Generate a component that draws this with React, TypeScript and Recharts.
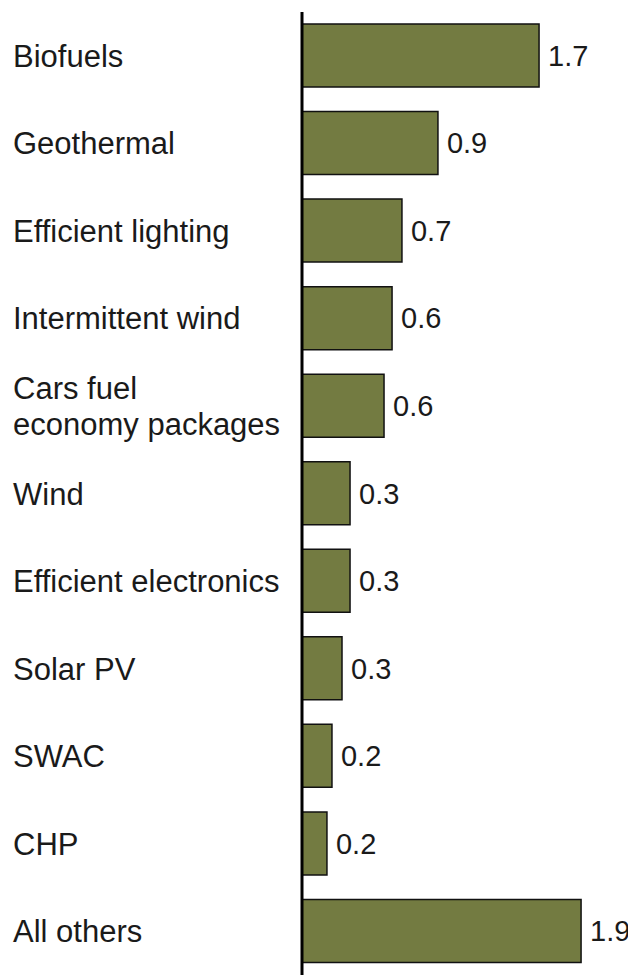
import React from "react";
import { BarChart, Bar, XAxis, YAxis, LabelList } from "recharts";

const categories = [
  "Biofuels",
  "Geothermal",
  "Efficient lighting",
  "Intermittent wind",
  "Cars fuel\neconomy packages",
  "Wind",
  "Efficient electronics",
  "Solar PV",
  "SWAC",
  "CHP",
  "All others",
];

const values = [1.653, 0.948, 0.697, 0.628, 0.572, 0.335, 0.335, 0.279, 0.209, 0.174, 1.946];

const data = categories.map((name, i) => ({ name, value: values[i] }));

const FONT = '"Liberation Sans", Arial, Helvetica, sans-serif';
const CAT_FONT_SIZE = 31;
const VAL_FONT_SIZE = 29;

const CatTick = (props: any) => {
  const { y, payload } = props;
  const lines: string[] = String(payload.value).split("\n");
  const lineH = 36;
  const startY = y + 11 - ((lines.length - 1) * lineH) / 2;
  return (
    <text x={5} y={startY} fontFamily={FONT} fontSize={CAT_FONT_SIZE} fill="#1a1a1a" textAnchor="start">
      {lines.map((l, i) => (
        <tspan key={i} x={5} y={startY + i * lineH}>
          {l}
        </tspan>
      ))}
    </text>
  );
};

export default function App() {
  return (
    <BarChart
      width={628}
      height={967}
      data={data}
      layout="vertical"
      margin={{ top: 4, right: 18.5, bottom: 0, left: 0 }}
      barCategoryGap={0}
      style={{ overflow: "visible" }}
    >
      <XAxis type="number" domain={[0, 2.2]} hide />
      <YAxis
        type="category"
        dataKey="name"
        width={294}
        axisLine={{ stroke: "#000", strokeWidth: 3 }}
        tickLine={false}
        tick={(p: any) => <CatTick {...p} />}
        interval={0}
      />
      <Bar dataKey="value" fill="#737B41" stroke="#111" strokeWidth={1.5} barSize={63} isAnimationActive={false}>
        <LabelList
          dataKey="value"
          position="right"
          offset={9}
          formatter={(v: any) => Number(v).toFixed(1)}
          style={{ fontFamily: FONT, fontSize: VAL_FONT_SIZE, fill: "#1a1a1a" }}
        />
      </Bar>
    </BarChart>
  );
}
